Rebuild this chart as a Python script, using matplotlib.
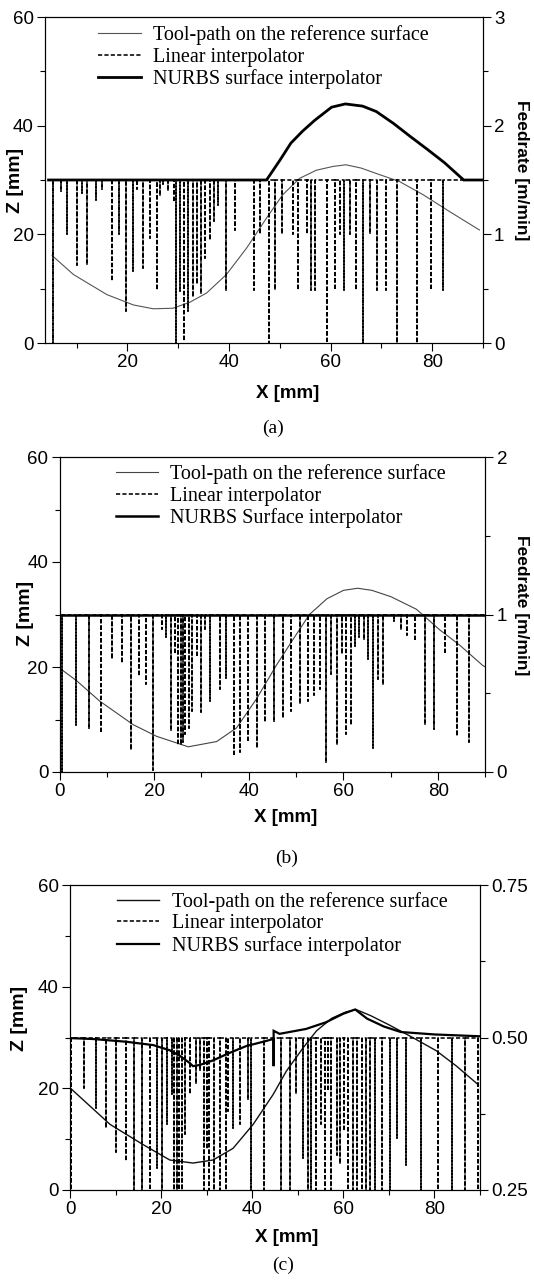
import matplotlib
matplotlib.use('Agg')
import matplotlib.pyplot as plt
from matplotlib.ticker import MultipleLocator

# ---------------- panel (a) ----------------
a_path_x = [5.2, 9.4, 16.0, 21.2, 25.1, 29.0, 32.3, 35.6, 39.5, 43.5, 47.4, 50.6, 53.9,
            57.2, 60.5, 63.0, 66.0, 69.0, 73.6, 78.2, 83.4, 89.3]
a_path_z = [16.1, 12.6, 8.9, 7.0, 6.3, 6.4, 7.5, 9.2, 12.6, 17.5, 23.0, 27.3, 30.3,
            31.8, 32.5, 32.8, 32.2, 31.2, 29.7, 27.3, 24.2, 20.8]
a_nurbs_x = [4.5, 47.4, 50.0, 52.2, 54.5, 56.9, 60.2, 62.9, 66.3, 69.0, 72.4, 75.7,
             79.1, 82.4, 86.2, 90.0]
a_nurbs_f = [1.5, 1.5, 1.68, 1.84, 1.95, 2.05, 2.17, 2.2, 2.18, 2.13, 2.02, 1.9,
             1.78, 1.66, 1.5, 1.5]
a_lin_x = [5.3, 7.0, 8.1, 10.1, 11.0, 12.1, 13.8, 15.0, 16.9, 18.4, 19.7, 21.1, 22.0,
           23.0, 24.5, 25.8, 26.5, 27.1, 28.1, 29.1, 29.6, 30.4, 31.2, 32.0, 32.9,
           33.7, 34.5, 35.3, 36.2, 37.0, 37.9, 39.5, 41.1, 44.9, 46.2, 47.8, 49.1,
           50.5, 52.6, 53.6, 55.4, 56.2, 57.0, 59.3, 60.8, 61.8, 62.7, 63.8, 65.1,
           66.4, 67.7, 69.2, 71.0, 73.0, 77.1, 79.7, 82.2]
a_lin_f = [0.0, 1.40, 1.0, 0.72, 1.38, 0.72, 1.32, 1.42, 0.57, 1.0, 0.29, 0.66, 1.42,
           0.69, 0.97, 0.49, 1.35, 1.46, 1.40, 1.30, 0.0, 0.48, 0.02, 0.29, 0.42,
           0.54, 0.45, 0.78, 0.95, 1.12, 1.27, 0.48, 1.04, 0.49, 1.0, 0.0, 0.49,
           1.0, 1.0, 0.49, 1.0, 0.49, 0.49, 0.0, 0.49, 1.0, 0.49, 1.0, 0.49,
           0.0, 1.0, 0.49, 0.49, 0.0, 0.0, 0.49, 0.49]

# ---------------- panel (b) ----------------
b_path_x = [0, 3.6, 8.5, 15.6, 20.5, 27.2, 33.2, 37.4, 41.6, 45.8, 49.3, 52.8, 56.5,
            60.0, 63.0, 66.0, 70.0, 75.4, 80.3, 84.5, 89.4, 90.0]
b_path_z = [19.8, 17.4, 13.5, 9.0, 6.8, 4.8, 5.8, 8.4, 13.9, 20.3, 25.2, 30.0, 33.0,
            34.6, 35.0, 34.6, 33.4, 31.0, 27.1, 24.2, 20.3, 20.0]
b_nurbs_x = [0.0, 90.0]
b_nurbs_f = [1.0, 1.0]
b_lin_x = [0.5, 3.5, 6.3, 8.8, 11.0, 13.1, 15.1, 16.7, 18.2, 19.7, 21.6, 22.4, 23.5,
           24.4, 25.1, 25.6, 26.1, 26.6, 27.3, 28.0, 29.1, 29.9, 30.8, 31.9, 34.0,
           35.2, 36.8, 38.2, 39.8, 41.7, 43.4, 45.4, 47.3, 49.0, 50.8, 52.4, 53.8,
           55.0, 56.4, 57.4, 58.6, 59.7, 60.6, 61.5, 62.4, 63.3, 64.4, 65.1, 66.2,
           67.2, 68.3, 70.6, 72.1, 73.5, 75.1, 77.2, 79.1, 81.4, 83.9, 86.5]
b_lin_f = [0.0, 0.30, 0.27, 0.25, 0.72, 0.69, 0.14, 0.61, 0.56, 0.01, 0.91, 0.86, 0.26,
           0.75, 0.17, 0.17, 0.19, 0.24, 0.28, 0.39, 0.73, 0.38, 0.91, 0.45, 0.53,
           0.60, 0.10, 0.13, 0.19, 0.15, 0.32, 0.32, 0.34, 0.39, 0.43, 0.45, 0.49,
           0.53, 0.06, 0.62, 0.17, 0.75, 0.24, 0.30, 0.80, 0.86, 0.84, 0.72, 0.15,
           0.59, 0.55, 0.96, 0.90, 0.87, 0.83, 0.30, 0.27, 0.75, 0.23, 0.19]

# ---------------- panel (c) ----------------
c_path_x = [0, 8.8, 16.1, 21.9, 27.0, 31.4, 35.8, 40.2, 44.6, 47.5, 51.2, 54.1, 57.5,
            60.5, 62.8, 66.0, 70.0, 74.6, 80.4, 84.8, 89.5]
c_path_z = [20.1, 12.9, 8.9, 5.9, 5.3, 5.9, 8.2, 12.9, 18.8, 23.4, 28.0, 31.3, 33.8,
            35.0, 35.5, 34.3, 32.5, 30.3, 27.4, 24.4, 20.8]
c_nurbs_x = [0, 5.1, 12.4, 18.3, 21.9, 24.1, 26.3, 27.0, 28.5, 31.4, 35.1, 38.7, 42.4,
             44.6, 44.7, 44.7, 44.7, 46.0, 51.8, 56.2, 60.0, 62.6, 65.2, 68.9, 72.6,
             80.0, 90.0]
c_nurbs_f = [0.499, 0.4975, 0.493, 0.4875, 0.479, 0.47, 0.458, 0.453, 0.455, 0.4625,
             0.475, 0.486, 0.493, 0.4975, 0.4975, 0.453, 0.511, 0.506, 0.514, 0.525,
             0.539, 0.546, 0.531, 0.518, 0.509, 0.505, 0.502]
c_lin_x = [0.2, 3.1, 5.7, 8.0, 10.2, 12.3, 14.0, 15.7, 17.5, 19.1, 20.1, 21.2, 22.3,
           22.8, 23.4, 24.0, 24.6, 25.2, 26.3, 27.6, 28.5, 29.4, 30.0, 30.6, 31.5,
           32.9, 34.2, 34.6, 35.8, 37.3, 39.1, 39.8, 42.6, 46.4, 48.2, 49.7, 51.2,
           52.3, 53.0, 54.1, 55.2, 55.9, 56.7, 57.4, 58.5, 59.2, 60.1, 61.0, 62.1,
           63.0, 64.0, 64.9, 65.8, 66.9, 68.4, 70.2, 71.8, 73.8, 77.1, 80.8, 83.9,
           86.6, 89.5]
c_lin_f = [0.25, 0.418, 0.385, 0.352, 0.313, 0.297, 0.25, 0.25, 0.25, 0.286, 0.25,
           0.358, 0.407, 0.25, 0.25, 0.25, 0.25, 0.341, 0.407, 0.423, 0.445, 0.25,
           0.318, 0.25, 0.25, 0.25, 0.25, 0.379, 0.352, 0.358, 0.398, 0.25, 0.25,
           0.25, 0.25, 0.407, 0.303, 0.25, 0.25, 0.25, 0.358, 0.25, 0.412, 0.25,
           0.308, 0.292, 0.346, 0.25, 0.25, 0.25, 0.25, 0.25, 0.25, 0.25, 0.25,
           0.25, 0.335, 0.291, 0.25, 0.25, 0.25, 0.25, 0.25]

labels_ab = ['Tool-path on the reference surface', 'Linear interpolator',
             'NURBS surface interpolator']
labels_b = ['Tool-path on the reference surface', 'Linear interpolator',
            'NURBS Surface interpolator']


def spikes(xs, fs, f_nom, x_end):
    # feedrate drops at each segment junction of the linear interpolator
    px, pf = [], []
    for x, f in zip(xs, fs):
        px += [x, x, x]
        pf += [f_nom, f, f_nom]
    px.append(x_end)
    pf.append(f_nom)
    return px, pf


SANS = 'Liberation Sans'
SERIF = 'Liberation Serif'
W, H = 534, 1284

fig = plt.figure(figsize=(W / 100, H / 100), dpi=100)

panels = [
    dict(box=(45, 17, 483, 343), xlim=(3.8, 90), flim=(0, 3), fmaj=1, fmin=0.5,
         fnom=1.5, path=(a_path_x, a_path_z), nurbs=(a_nurbs_x, a_nurbs_f),
         lin=(a_lin_x, a_lin_f), lin_end=89.5, labels=labels_ab, path_c='#555555',
         path_lw=0.8, nurbs_lw=2.0, flabel=True, fticks=['0', '1', '2', '3'],
         leg=(0.122, 0.975), zl=(16, 180), fl=(521, 170), xl=(288, 393), cap=('(a)', 273, 428)),
    dict(box=(59.5, 457, 485.5, 772), xlim=(0, 90), flim=(0, 2), fmaj=1, fmin=0.5,
         fnom=1.0, path=(b_path_x, b_path_z), nurbs=(b_nurbs_x, b_nurbs_f),
         lin=(b_lin_x, b_lin_f), lin_end=90, labels=labels_b, path_c='#444444',
         path_lw=0.8, nurbs_lw=1.8, flabel=True, fticks=['0', '1', '2'],
         leg=(0.132, 0.977), zl=(26, 613), fl=(521, 605), xl=(286, 818), cap=('(b)', 287, 858)),
    dict(box=(70, 885, 480, 1190), xlim=(0, 90), flim=(0.25, 0.75), fmaj=0.25, fmin=0.125,
         fnom=0.5, path=(c_path_x, c_path_z), nurbs=(c_nurbs_x, c_nurbs_f),
         lin=(c_lin_x, c_lin_f), lin_end=90, labels=labels_ab, path_c='#111111',
         path_lw=1.0, nurbs_lw=1.6, flabel=False, fticks=['0.25', '0.50', '0.75'],
         leg=(0.115, 0.977), zl=(20, 1018), fl=None, xl=(287, 1237), cap=('(c)', 283, 1265)),
]

for p in panels:
    x0, y0, x1, y1 = p['box']
    ax = fig.add_axes([x0 / W, 1 - y1 / H, (x1 - x0) / W, (y1 - y0) / H])
    ax2 = ax.twinx()

    h1, = ax.plot(*p['path'], color=p['path_c'], lw=p['path_lw'])
    lx, lf = spikes(*p['lin'], p['fnom'], p['lin_end'])
    h2, = ax2.plot(lx, lf, color='black', lw=1.15, linestyle=(0, (2.6, 1.4)))
    h3, = ax2.plot(*p['nurbs'], color='black', lw=p['nurbs_lw'], solid_joinstyle='miter')

    ax.set_xlim(*p['xlim'])
    ax.set_ylim(0, 60)
    ax2.set_ylim(*p['flim'])

    ax.xaxis.set_major_locator(MultipleLocator(20))
    ax.xaxis.set_minor_locator(MultipleLocator(10))
    ax.yaxis.set_major_locator(MultipleLocator(20))
    ax.yaxis.set_minor_locator(MultipleLocator(10))
    ax2.yaxis.set_major_locator(MultipleLocator(p['fmaj']))
    ax2.yaxis.set_minor_locator(MultipleLocator(p['fmin']))
    ax2.set_yticks([p['flim'][0] + i * p['fmaj'] for i in range(len(p['fticks']))])
    ax2.set_yticklabels(p['fticks'])

    for a in (ax, ax2):
        a.tick_params(which='major', direction='out', length=6, width=0.8, pad=2,
                      labelsize=13.5)
        a.tick_params(which='minor', direction='out', length=3.5, width=0.8)
        for lab in a.get_xticklabels() + a.get_yticklabels():
            lab.set_family(SANS)
        for s in a.spines.values():
            s.set_linewidth(0.8)

    ax2.legend([h1, h2, h3], p['labels'], loc='upper left',
               bbox_to_anchor=p['leg'], frameon=False, borderpad=0,
               borderaxespad=0, handlelength=2.1, handletextpad=0.6,
               labelspacing=0.12, prop={'family': SERIF, 'size': 14.5})

    fig.text(p['zl'][0] / W, 1 - p['zl'][1] / H, 'Z [mm]', rotation=90, ha='center',
             va='center', family=SANS, weight='bold', fontsize=14)
    if p['flabel']:
        fig.text(p['fl'][0] / W, 1 - p['fl'][1] / H, 'Feedrate [m/min]', rotation=270,
                 ha='center', va='center', family=SANS, weight='bold', fontsize=12.5)
    fig.text(p['xl'][0] / W, 1 - p['xl'][1] / H, 'X [mm]', ha='center', va='center',
             family=SANS, weight='bold', fontsize=13.5)
    cap, cx, cy = p['cap']
    fig.text(cx / W, 1 - cy / H, cap, ha='center', va='center', family=SERIF,
             fontsize=14)

fig.savefig('out.png', dpi=100)
